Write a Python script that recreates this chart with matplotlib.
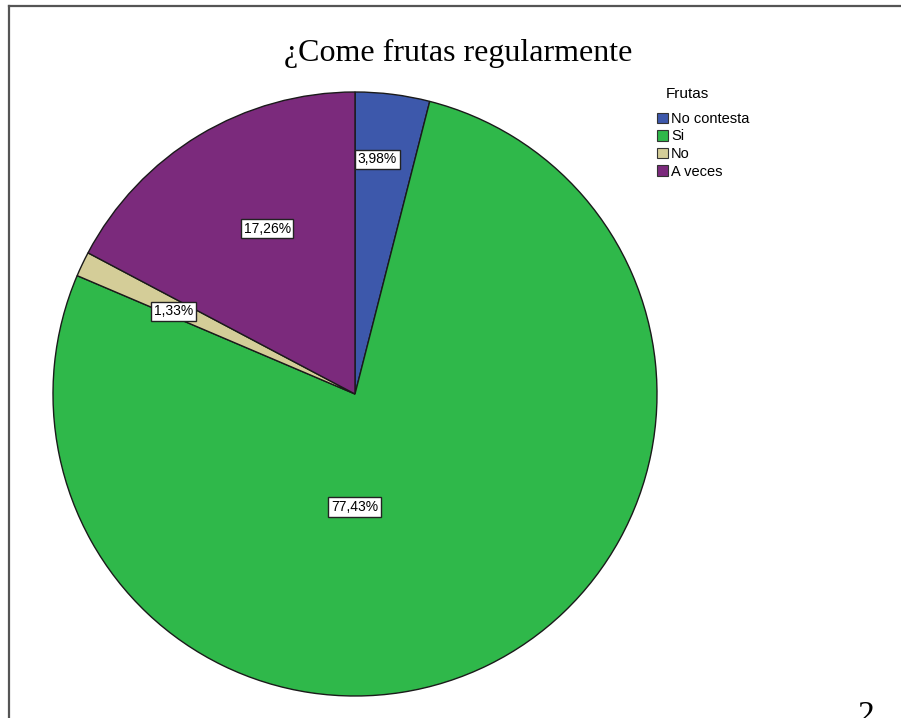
import numpy as np
import matplotlib
matplotlib.use('Agg')
import matplotlib.pyplot as plt
from matplotlib.lines import Line2D
from matplotlib.patches import Patch

categories = ['No contesta', 'Si', 'No', 'A veces']
percentages = [3.98, 77.43, 1.33, 17.26]
slice_colors = ['#3d58ab', '#2fb84a', '#d4cd98', '#7b2a7c']
title = '¿Come frutas regularmente'
legend_title = 'Frutas'

# where SPSS put each label: (angle in degrees, fraction of radius)
label_place = [(84.6, 0.78), (-90.3, 0.375), (155.5, 0.66), (118.0, 0.62)]

W, H = 901, 718
fig = plt.figure(figsize=(W / 100, H / 100), dpi=100)

cx, cy, r = 355, 394, 302
ax = fig.add_axes([(cx - r) / W, (H - cy - r) / H, 2 * r / W, 2 * r / H])
ax.pie(percentages, colors=slice_colors, startangle=90, counterclock=False,
       wedgeprops=dict(edgecolor='#1a1a1a', linewidth=1.0))
ax.set_xlim(-1, 1)
ax.set_ylim(-1, 1)
ax.set_aspect('equal')
ax.axis('off')

for pct, (ang, dist) in zip(percentages, label_place):
    a = np.deg2rad(ang)
    ax.text(dist * np.cos(a), dist * np.sin(a), f'{pct:.2f}%'.replace('.', ','),
            ha='center', va='center', fontsize=10, family='Liberation Sans',
            bbox=dict(boxstyle='square,pad=0.2', facecolor='white',
                      edgecolor='#222222', linewidth=1.0))

fig.text(458 / W, 1 - 53 / H, title, ha='center', va='center',
         fontsize=23, family='Liberation Serif')

fig.text(687 / W, 1 - 94 / H, legend_title, ha='center', va='center',
         fontsize=11, family='Liberation Sans')
handles = [Patch(facecolor=c, edgecolor='#333333', linewidth=0.8) for c in slice_colors]
leg = fig.legend(handles, categories, loc='upper left',
                 bbox_to_anchor=(657 / W, 1 - 112 / H), frameon=False,
                 prop=dict(family='Liberation Sans', size=10.5),
                 handlelength=0.75, handleheight=0.75, handletextpad=0.2,
                 labelspacing=0.24, borderaxespad=0, borderpad=0)

# page frame
fig.add_artist(Line2D([8.5 / W, 1], [1 - 5.5 / H, 1 - 5.5 / H], color='#555555', lw=1.6))
fig.add_artist(Line2D([8.5 / W, 8.5 / W], [0, 1 - 5.5 / H], color='#555555', lw=1.6))

fig.text(866 / W, 1 - 701 / H, '2', ha='center', va='top',
         fontsize=24, family='Liberation Serif')

fig.savefig('out.png', dpi=100)
